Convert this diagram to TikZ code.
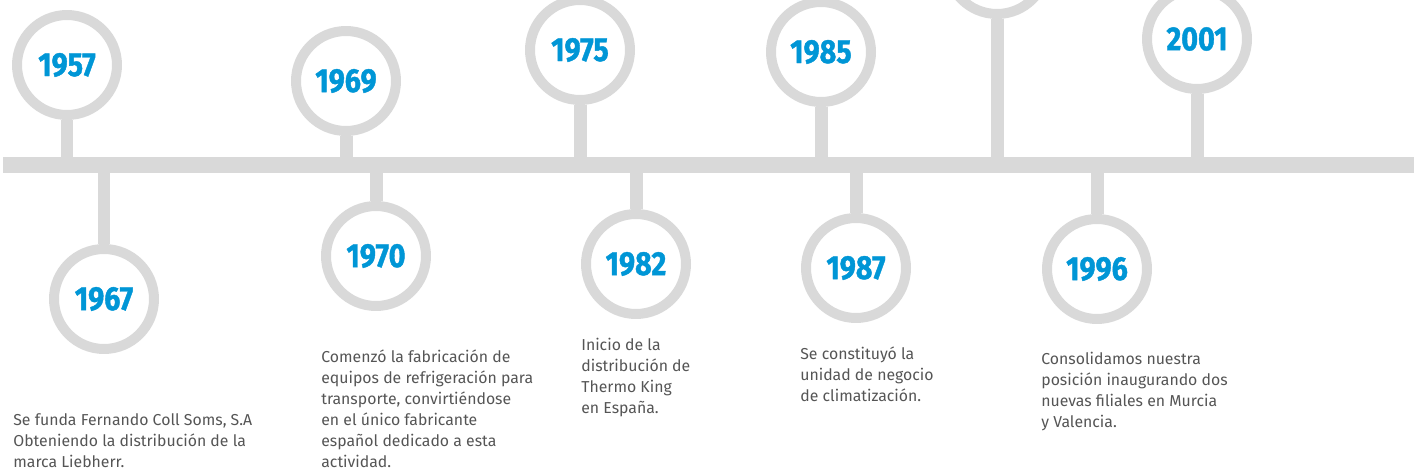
\documentclass[tikz,border=0pt]{standalone}
\usepackage{fontspec}
\setmainfont{Fira Sans}
\newfontfamily\yearfont[FakeStretch=0.86, FakeBold=1.2]{Fira Sans}
\definecolor{ringgray}{HTML}{D9D9D9}
\definecolor{yearblue}{HTML}{0096D6}
\definecolor{textgray}{HTML}{555555}
\tikzset{
  ring/.style={circle, draw=ringgray, fill=white, line width=0.2cm, minimum size=2cm, inner sep=0pt,
    text=yearblue, font=\yearfont\bfseries\fontsize{19}{19}\selectfont},
  stem/.style={draw=ringgray, line width=0.26cm},
  timebar/.style={draw=ringgray, line width=0.32cm},
  desc/.style={anchor=north west, align=left, inner sep=0pt, text=textgray,
    font=\fontsize{9}{12}\selectfont}
}

\begin{document}
\begin{tikzpicture}[x=0.02cm, y=-0.02cm]
			%%%%% START %%%%%
			\clip (0, 0) rectangle (1414, 473);
			
			\coordinate (barL) at (3, 165);
			\coordinate (barR) at (1414, 165);
			
			% years above the bar
			\node[ring] (y1957) at (67, 65) {1957};
			\node[ring] (y1969) at (346, 81) {1969};
			\node[ring] (y1975) at (580, 50) {1975};
			\node[ring] (y1985) at (821, 52) {1985};
			\node[ring] (y1990) at (997, -36) {};
			\node[ring] (y2001) at (1197, 39) {2001};
			
			% years below the bar
			\node[ring] (y1967) at (104, 299) {1967};
			\node[ring] (y1970) at (376, 256) {1970};
			\node[ring] (y1982) at (636, 264) {1982};
			\node[ring] (y1987) at (856, 268) {1987};
			\node[ring] (y1996) at (1097, 269) {1996};
			
			\foreach \yr in {1957, 1969, 1975, 1985, 1990, 2001, 1967, 1970, 1982, 1987, 1996}
				\draw[stem] (y\yr) -- (y\yr |- barL);
			
			\draw[timebar] (barL) -- (barR);
			
			% texts
			\node[desc] (t1967) at (13, 413) {Se funda Fernando Coll Soms, S.A\\Obteniendo la distribución de la\\marca Liebherr.};
			\node[desc] (t1970) at (321, 349) {Comenzó la fabricación de\\equipos de refrigeración para\\transporte, convirtiéndose\\en el único fabricante\\español dedicado a esta\\actividad.};
			\node[desc] (t1982) at (581, 338) {Inicio de la\\distribución de\\Thermo King\\en España.};
			\node[desc] (t1987) at (800, 346) {Se constituyó la\\unidad de negocio\\de climatización.};
			\node[desc] (t1996) at (1041, 352) {Consolidamos nuestra\\posición inaugurando dos\\nuevas filiales en Murcia\\y Valencia.};
			
			%%%%% END %%%%%
\end{tikzpicture}
\end{document}
